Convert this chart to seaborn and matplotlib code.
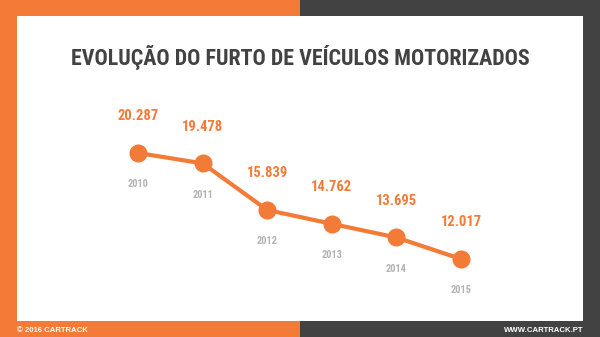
import matplotlib
matplotlib.use("Agg")
import matplotlib.pyplot as plt
from matplotlib.patches import Rectangle
import seaborn as sns
import pandas as pd

# Stolen motor vehicles per year
years = [2010, 2011, 2012, 2013, 2014, 2015]
thefts = [20287, 19478, 15839, 14762, 13695, 12017]
value_labels = ["20.287", "19.478", "15.839", "14.762", "13.695", "12.017"]
year_labels = ["2010", "2011", "2012", "2013", "2014", "2015"]

title = "EVOLUÇÃO DO FURTO DE VEÍCULOS MOTORIZADOS"
footer_left = "© 2016 CARTRACK"
footer_right = "WWW.CARTRACK.PT"

ORANGE = "#F47A38"
DARK = "#424242"
GREY_TXT = "#B3B3B3"

sns.set_theme(style="white")
cond = ["Roboto Condensed", "Roboto", "DejaVu Sans"]
plt.rcParams["font.family"] = cond

W, H = 600, 337
fig = plt.figure(figsize=(W / 100, H / 100), dpi=100)
fig.patch.set_facecolor("white")

def px_rect(x, y, w, h, color):
    # rectangle given in pixel units measured from the top-left corner
    fig.add_artist(Rectangle((x / W, 1 - (y + h) / H), w / W, h / H,
                             transform=fig.transFigure, facecolor=color,
                             edgecolor="none", zorder=0))

px_rect(0, 0, 300, H, ORANGE)
px_rect(300, 0, 300, H, DARK)
px_rect(17, 16, 566, 305, "white")

fig.text(0.5, 1 - 58 / H, title, ha="center", va="center",
         fontsize=15.8, fontweight="bold", color=DARK)
foot_font = ["Liberation Sans", "DejaVu Sans"]
fig.text(17 / W, 1 - 330 / H, footer_left, ha="left", va="center",
         fontsize=5.6, fontweight="bold", color="white", family=foot_font)
fig.text(583 / W, 1 - 330 / H, footer_right, ha="right", va="center",
         fontsize=5.6, fontweight="bold", color="white", family=foot_font)

ax = fig.add_axes([0, 0, 1, 1])
ax.patch.set_alpha(0)
df = pd.DataFrame({"ano": years, "furtos": thefts})
sns.lineplot(data=df, x="ano", y="furtos", ax=ax, color=ORANGE, linewidth=3,
             marker="o", markersize=13, markeredgewidth=0, zorder=5)

# axis limits place 2010..2015 across the panel
x0, x1 = 138, 461
ppy = (x1 - x0) / (years[-1] - years[0])
ax.set_xlim(years[0] - x0 / ppy, years[-1] + (W - x1) / ppy)
y_top_px, y_bot_px = 153, 259
upp = (thefts[0] - thefts[-1]) / (y_bot_px - y_top_px)
ax.set_ylim(thefts[-1] - (H - y_bot_px) * upp, thefts[0] + y_top_px * upp)
ax.set_axis_off()

for yr, v, vl, yl in zip(years, thefts, value_labels, year_labels):
    ax.annotate(vl, (yr, v), xytext=(0, 26.5), textcoords="offset points",
                ha="center", va="center", fontsize=10.5, fontweight="bold",
                color=ORANGE)
    ax.annotate(yl, (yr, v), xytext=(0, -22.5), textcoords="offset points",
                ha="center", va="center", fontsize=7.5, fontweight="bold",
                color=GREY_TXT)

fig.savefig("out.png", dpi=100)
